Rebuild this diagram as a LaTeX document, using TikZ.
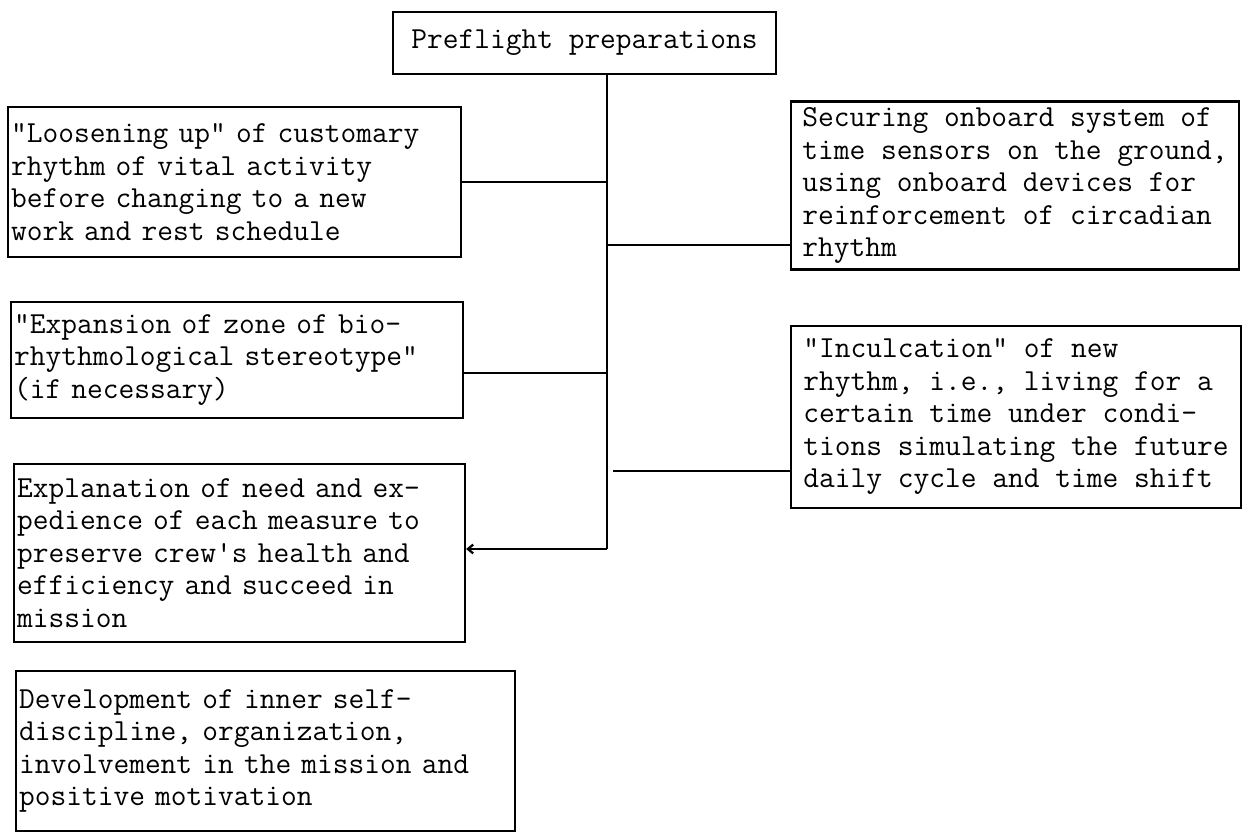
\documentclass[tikz,border=0pt]{standalone}
\usetikzlibrary{arrows.meta}
\begin{document}
\begin{tikzpicture}[x=0.02cm,y=-0.02cm,
    box/.style={draw,line width=1.3pt,font=\ttfamily\fontsize{17.4}{18.5}\selectfont},
    lbox/.style={box,align=left,inner xsep=0.06cm},
    rbox/.style={box,align=left},
    link/.style={line width=1.3pt}]
    \useasboundingbox (0,0) rectangle (1251,834);
    % Kaesten
    \node[box,minimum width=7.66cm,minimum height=1.24cm] (prep) at (584.5,43) {Preflight preparations};
    \node[lbox,text width=8.94cm,minimum height=3.0cm] (loosen) at (234.5,182)
        {"Loosening up" of customary\\rhythm of vital activity\\before changing to a new\\work and rest schedule};
    \node[lbox,text width=8.92cm,minimum height=2.32cm] (expand) at (237,360)
        {"Expansion of zone of bio-\\rhythmological stereotype"\\(if necessary)};
    \node[lbox,text width=8.90cm,minimum height=3.56cm] (explain) at (239.5,553)
        {Explanation of need and ex-\\pedience of each measure to\\preserve crew's health and\\efficiency and succeed in\\mission};
    \node[lbox,text width=9.86cm,minimum height=3.2cm] (develop) at (265.5,751)
        {Development of inner self-\\discipline, organization,\\involvement in the mission and\\positive motivation};
    \node[rbox,minimum width=8.96cm,minimum height=3.3cm] (secure) at (1015,185.5)
        {Securing onboard system of\\time sensors on the ground,\\using onboard devices for\\reinforcement of circadian\\rhythm};
    \node[rbox,minimum width=9.0cm,minimum height=3.64cm] (inculc) at (1016,417)
        {"Inculcation" of new\\rhythm, i.e., living for a\\certain time under condi-\\tions simulating the future\\daily cycle and time shift};
    % Stamm und Aeste
    \coordinate (tx) at (607,0);
    \coordinate (tend) at (607,549);
    \coordinate (t2) at (607,373);
    \coordinate (t4) at (607,245);
    \coordinate (t5) at (613,471);
    \draw[link] (prep.south -| tx) -- (tend);
    \draw[link] (loosen.east) -- (loosen.east -| tx);
    \draw[link] (t2) -- (t2 -| expand.east);
    \draw[link,-{Straight Barb[length=3pt,width=5pt]}] (tend) -- (tend -| explain.east);
    \draw[link] (t4) -- (t4 -| secure.west);
    \draw[link] (t5) -- (t5 -| inculc.west);
\end{tikzpicture}
\end{document}
